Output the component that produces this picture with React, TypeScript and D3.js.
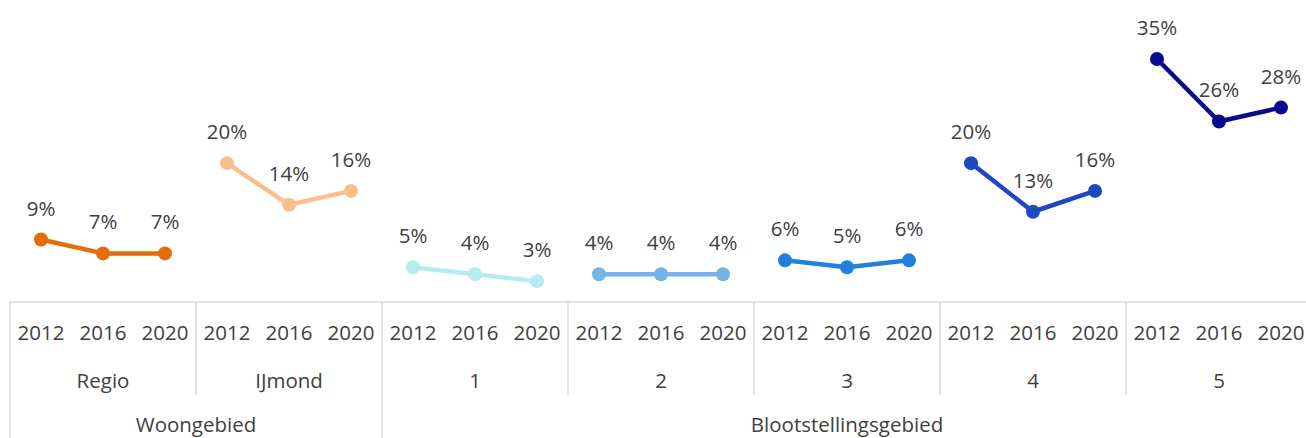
import React from 'react'
import * as d3 from 'd3'

// categories
const regions = ['Regio', 'IJmond', '1', '2', '3', '4', '5']
const years = ['2012', '2016', '2020']
const areas = [
    { name: 'Woongebied', count: 2 },
    { name: 'Blootstellingsgebied', count: 5 },
]

// series values (share, per region, per year)
const regio = [0.09, 0.07, 0.07]
const ijmond = [0.20, 0.14, 0.16]
const gebied1 = [0.05, 0.04, 0.03]
const gebied2 = [0.04, 0.04, 0.04]
const gebied3 = [0.06, 0.05, 0.06]
const gebied4 = [0.20, 0.13, 0.16]
const gebied5 = [0.35, 0.26, 0.28]

const seriesValues = [regio, ijmond, gebied1, gebied2, gebied3, gebied4, gebied5]
const seriesColors = ['#E46C0A', '#F9C08E', '#B5ECEF', '#74B4E8', '#1F80E0', '#1F47C0', '#0A0A8E']

const width = 1306
const height = 438
const margin = { left: 10, right: -6, top: 10 }
const axisY = 302
const font = "'Open Sans', sans-serif"
const fontSize = 20.5
const textColor = '#404040'
const gridColor = '#D9D9D9'

const App = () => {
    // outer band per region, inner band per year
    const x = d3.scaleBand()
        .domain(regions)
        .range([margin.left, width - margin.right])
        .padding(0)
    const xYear = d3.scaleBand()
        .domain(years)
        .range([0, x.bandwidth()])
        .padding(0)
    const y = d3.scaleLinear()
        .domain([0, 0.35])
        .range([axisY, 59])

    const line = d3.line<number>()
        .x((d, i) => xYear(years[i])! + xYear.bandwidth() / 2)
        .y(d => y(d))

    const fmt = d3.format('.0%')

    let start = 0
    const areaSpans = areas.map(a => {
        const x0 = x(regions[start])!
        const x1 = x(regions[start + a.count - 1])! + x.bandwidth()
        start += a.count
        return { ...a, x0, x1 }
    })

    return (
        <svg width={width} height={height}
            style={{ position: 'absolute', left: 0, top: 0, display: 'block' }}
            fontFamily={font}>
            {/* axis */}
            <line x1={margin.left} x2={width + 10} y1={axisY} y2={axisY} stroke={gridColor} strokeWidth={1.5} />
            {regions.map((r, i) => (
                <line key={'sep' + r}
                    x1={x(r)!} x2={x(r)!} y1={axisY}
                    y2={i === 0 || i === 2 ? height : 395}
                    stroke={gridColor} strokeWidth={1.5} />
            ))}
            {regions.map(r => (
                <g key={'lab' + r} transform={`translate(${x(r)},0)`}>
                    {years.map(yr => (
                        <text key={yr} x={xYear(yr)! + xYear.bandwidth() / 2} y={332}
                            textAnchor="middle" dominantBaseline="central"
                            fontSize={fontSize} fill={textColor}>{yr}</text>
                    ))}
                    <text x={x.bandwidth() / 2} y={380} textAnchor="middle" dominantBaseline="central"
                        fontSize={fontSize} fill={textColor}>{r}</text>
                </g>
            ))}
            {areaSpans.map(a => (
                <text key={a.name} x={(a.x0 + a.x1) / 2} y={424} textAnchor="middle" dominantBaseline="central"
                    fontSize={fontSize} fill={textColor}>{a.name}</text>
            ))}

            {/* series */}
            {seriesValues.map((vals, si) => (
                <g key={'s' + si} transform={`translate(${x(regions[si])},0)`}>
                    <path d={line(vals)!} fill="none" stroke={seriesColors[si]} strokeWidth={4.5} strokeLinejoin="round" />
                    {vals.map((v, i) => (
                        <circle key={i} cx={xYear(years[i])! + xYear.bandwidth() / 2} cy={y(v)} r={7}
                            fill={seriesColors[si]} />
                    ))}
                    {vals.map((v, i) => (
                        <text key={'t' + i} x={xYear(years[i])! + xYear.bandwidth() / 2} y={y(v) - 32}
                            textAnchor="middle" dominantBaseline="central"
                            fontSize={fontSize} fill={textColor}>{fmt(v)}</text>
                    ))}
                </g>
            ))}
        </svg>
    )
}

export default App
